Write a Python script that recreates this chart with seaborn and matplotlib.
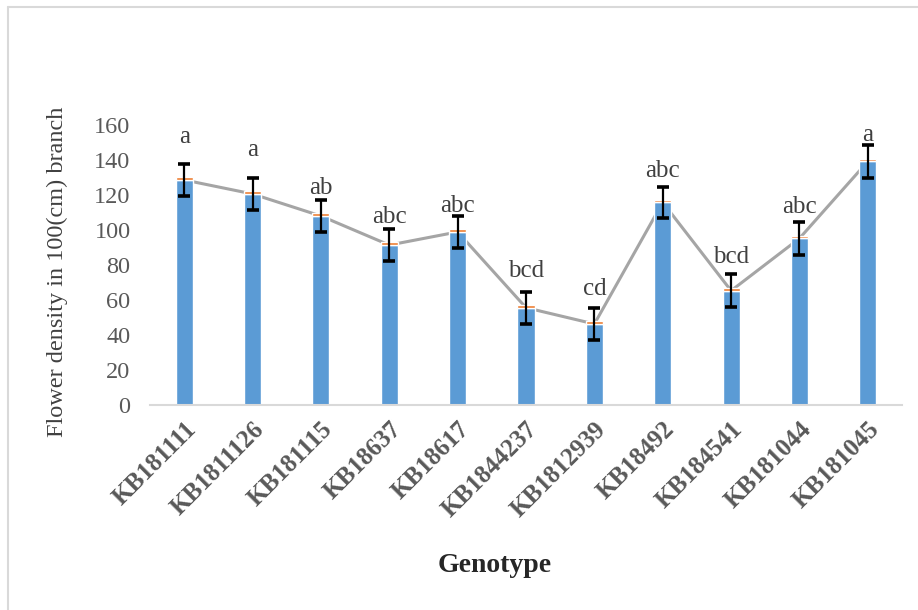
import matplotlib
matplotlib.use("Agg")
import matplotlib.pyplot as plt
import seaborn as sns
import pandas as pd
from matplotlib.lines import Line2D

genotypes = ["KB181111", "KB1811126", "KB181115", "KB18637", "KB18617", "KB1844237",
             "KB1812939", "KB18492", "KB184541", "KB181044", "KB181045"]
density = [128.6, 120.6, 108.0, 91.4, 98.9, 55.6, 46.3, 115.8, 65.3, 95.2, 139.2]
errors = [9.4, 9.2, 9.0, 9.2, 9.1, 9.2, 9.1, 9.0, 9.4, 9.2, 9.2]
letters = ["a", "a", "ab", "abc", "abc", "bcd", "cd", "abc", "bcd", "abc", "a"]
letter_offset = [15, 16, 7, 7, 6, 12, 11, 9, 10, 9, 6]

df = pd.DataFrame({"Genotype": genotypes, "Density": density})

sns.set_theme(style="white")
plt.rcParams["font.family"] = ["Liberation Serif", "DejaVu Serif"]

fig = plt.figure(figsize=(9.18, 6.10), dpi=100)
ax = fig.add_axes([150 / 918, 1 - 405 / 610, 752 / 918, 280 / 610])

# line (behind bars)
sns.lineplot(data=df, x="Genotype", y="Density", ax=ax, color="#A5A5A5",
             linewidth=2.2, sort=False)
for ln in ax.lines:
    ln.set_zorder(1)
# bars
sns.barplot(data=df, x="Genotype", y="Density", ax=ax, color="#5B9BD5",
            width=0.25, saturation=1, errorbar=None)
for p in ax.patches:
    p.set_zorder(2)
# thin orange top
xs = list(range(len(genotypes)))
ax.bar(xs, [1.5] * len(xs), bottom=density, width=0.25, color="#ED7D31", zorder=3)
# error bars
ax.errorbar(xs, density, yerr=errors, fmt="none", ecolor="black",
            elinewidth=1.6, capsize=4.5, capthick=2.6, zorder=4)
# letters
for x, d, e, lab, off in zip(xs, density, errors, letters, letter_offset):
    ax.text(x, d + e + off, lab, ha="center", va="center", fontsize=18,
            color="#404040", clip_on=False, zorder=5)

ax.set_xlim(-0.5, len(genotypes) - 0.5)
ax.set_ylim(0, 160)
ax.set_yticks(range(0, 161, 20))
ax.tick_params(axis="y", labelsize=17.5, labelcolor="#595959", length=0, pad=14)
ax.tick_params(axis="x", length=0, pad=9)
ax.set_xticks(xs)
ax.set_xticklabels(genotypes, rotation=45, ha="right", rotation_mode="anchor",
                   fontsize=18, fontweight="bold", color="#595959")
for s in ["top", "right", "left"]:
    ax.spines[s].set_visible(False)
ax.spines["bottom"].set_color("#D9D9D9")
ax.spines["bottom"].set_linewidth(1.5)
ax.spines["bottom"].set_zorder(6)
ax.grid(False)

ax.set_ylabel("Flower density in 100(cm) branch", fontsize=17.5, color="#404040")
ax.yaxis.set_label_coords(-0.109, 0.475)
ax.set_xlabel("")
fig.text(495 / 918, 1 - 565 / 610, "Genotype", ha="center", va="center",
         fontsize=20, fontweight="bold", color="#262626")

# chart border (top and left edges)
fig.add_artist(Line2D([8 / 918, 1], [1 - 7 / 610, 1 - 7 / 610], color="#D9D9D9",
                      linewidth=1.5, transform=fig.transFigure))
fig.add_artist(Line2D([8 / 918, 8 / 918], [0, 1 - 7 / 610], color="#D9D9D9",
                      linewidth=1.5, transform=fig.transFigure))

fig.savefig("out.png", dpi=100)
